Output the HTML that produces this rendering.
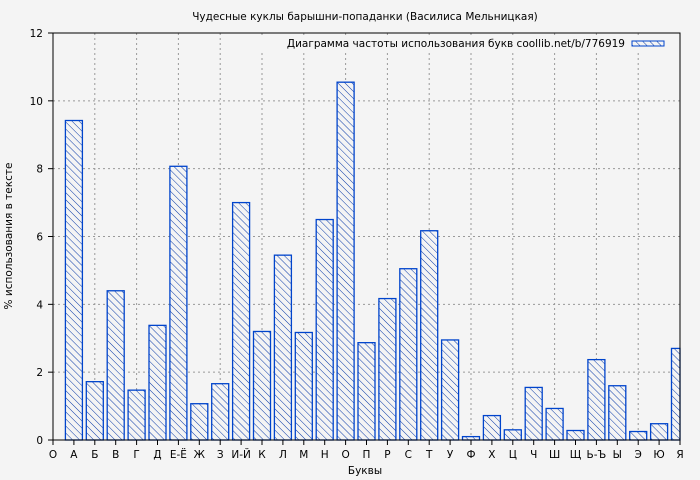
<!DOCTYPE html><html><head><meta charset="utf-8"><style>body{margin:0;background:#f4f4f4}svg{display:block}text{font-family:"DejaVu Sans",sans-serif;font-size:10.5px;fill:#000}</style></head><body>
<svg width="700" height="480" xmlns="http://www.w3.org/2000/svg">
<defs><pattern id="h" width="5" height="5" patternUnits="userSpaceOnUse" patternTransform="rotate(-45)"><rect width="5" height="5" fill="#f4f4f4"/><line x1="0" y1="0" x2="0" y2="5" stroke="#0a3aa8" stroke-width="1"/></pattern></defs>
<rect width="700" height="480" fill="#f4f4f4"/>
<text x="365" y="20" text-anchor="middle">Чудесные куклы барышни-попаданки (Василиса Мельницкая)</text>
<g id="grid" stroke="#999" stroke-dasharray="2,3" stroke-width="1"></g>
<g id="bars"></g>
<rect x="53" y="33" width="627" height="407" fill="none" stroke="#000" stroke-width="1"/>
<rect x="240" y="36" width="436" height="16" fill="#f4f4f4"/>
<text x="625" y="47" text-anchor="end">Диаграмма частоты использования букв coollib.net/b/776919</text>
<rect x="632" y="41" width="32" height="5" fill="url(#h)" stroke="#0044cc" stroke-width="1"/>
<g id="ax"></g>
<text x="365" y="474" text-anchor="middle">Буквы</text>
<text transform="translate(12,236) rotate(-90)" text-anchor="middle">% использования в тексте</text>
</svg>
<script>
var ns="http://www.w3.org/2000/svg";
function el(p,t,a,tx){var e=document.createElementNS(ns,t);for(var k in a)e.setAttribute(k,a[k]);if(tx!=null)e.textContent=tx;document.getElementById(p).appendChild(e);}
var L=["О","А","Б","В","Г","Д","Е-Ё","Ж","З","И-Й","К","Л","М","Н","О","П","Р","С","Т","У","Ф","Х","Ц","Ч","Ш","Щ","Ь-Ъ","Ы","Э","Ю","Я"];
var V=[null,9.42,1.72,4.4,1.47,3.38,8.07,1.07,1.66,7.0,3.2,5.45,3.17,6.5,10.55,2.87,4.17,5.05,6.17,2.95,0.1,0.72,0.3,1.55,0.93,0.28,2.37,1.6,0.25,0.48,2.7];
var x0=53,dx=627/30,y0=440,sy=407/12;
for(var v=2;v<12;v+=2)el("grid","line",{x1:53,x2:680,y1:y0-v*sy,y2:y0-v*sy});
for(var i=2;i<30;i+=2)el("grid","line",{x1:x0+i*dx,x2:x0+i*dx,y1:33,y2:440});
for(var i=1;i<31;i++){var c=x0+i*dx,h=V[i]*sy,l=c-8.5,w=17;if(l+w>680)w=680-l;
el("bars","rect",{x:l,y:y0-h,width:w,height:h,fill:"url(#h)",stroke:"#0044cc","stroke-width":1.3});}
for(var i=0;i<31;i++){var c=x0+i*dx;el("ax","line",{x1:c,x2:c,y1:440,y2:445,stroke:"#000"});el("ax","text",{x:c,y:458,"text-anchor":"middle"},L[i]);}
for(var v=0;v<=12;v+=2){var y=y0-v*sy;el("ax","line",{x1:48,x2:53,y1:y,y2:y,stroke:"#000"});el("ax","text",{x:43,y:y+4,"text-anchor":"end"},v);}
</script></body></html>
